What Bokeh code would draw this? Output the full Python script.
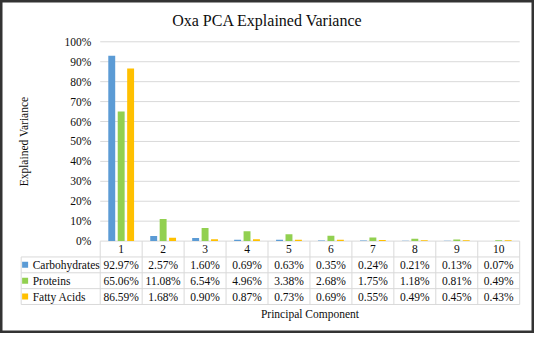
from bokeh.plotting import figure
from bokeh.models import Range1d, LinearAxis, FixedTicker, ColumnDataSource
from bokeh.transform import dodge
from bokeh.core.properties import value
from bokeh.embed import file_html
from bokeh.resources import INLINE

# ---------------- data ----------------
components = [1, 2, 3, 4, 5, 6, 7, 8, 9, 10]
series_names = ["Carbohydrates", "Proteins", "Fatty Acids"]
carbohydrates = [92.97, 2.57, 1.60, 0.69, 0.63, 0.35, 0.24, 0.21, 0.13, 0.07]
proteins = [65.06, 11.08, 6.54, 4.96, 3.38, 2.68, 1.75, 1.18, 0.81, 0.49]
fatty_acids = [86.59, 1.68, 0.90, 0.87, 0.73, 0.69, 0.55, 0.49, 0.45, 0.43]
y_ticks = [0, 10, 20, 30, 40, 50, 60, 70, 80, 90, 100]
y_tick_labels = ["0%", "10%", "20%", "30%", "40%", "50%", "60%", "70%", "80%", "90%", "100%"]
title_text = "Oxa PCA Explained Variance"
x_label = "Principal Component"
y_label = "Explained Variance"

# ---------------- style ----------------
colors = ["#5B9BD5", "#92D050", "#FFC000"]
FONT = "Liberation Serif"
TXT = "#0d0d0d"
LINE = "#d9d9d9"
FS = "11.5px"

X0, X1 = -1.877, 10.853
Y0, Y1 = -46.36, 120.72
row_h = 7.95
legend_left = -1.384
key_x = -1.29
label_x = -1.11
bar_w = 0.165
offs = [-0.225, 0.0, 0.225]

p = figure(width=534, height=333,
           x_range=Range1d(X0, X1), y_range=Range1d(Y0, Y1),
           output_backend="svg", toolbar_location=None,
           x_axis_location=None, y_axis_location=None,
           min_border=0, min_border_left=0, min_border_right=0,
           min_border_top=0, min_border_bottom=0,
           background_fill_color="white", border_fill_color="white",
           outline_line_color="#333333", outline_line_width=4)
for g in p.grid:
    g.visible = False

yax = LinearAxis(ticker=FixedTicker(ticks=y_ticks),
                 major_label_overrides={t: l for t, l in zip(y_ticks, y_tick_labels)},
                 fixed_location=components[0] - 0.5, bounds=(y_ticks[0], y_ticks[-1]),
                 axis_line_color=None, major_tick_line_color=None,
                 minor_tick_line_color=None, major_tick_in=0, major_tick_out=0,
                 minor_tick_in=0, minor_tick_out=0,
                 major_label_standoff=9,
                 major_label_text_font=FONT, major_label_text_font_size=FS,
                 major_label_text_color=TXT,
                 axis_label=y_label, axis_label_standoff=32,
                 axis_label_text_font=FONT, axis_label_text_font_size=FS,
                 axis_label_text_font_style="normal", axis_label_text_color=TXT)
p.add_layout(yax, "left")

xa = components[0] - 0.5
xb = components[-1] + 0.5

# gridlines
n = len(y_ticks)
p.segment(x0=[xa] * n, x1=[xb] * n, y0=y_ticks, y1=y_ticks,
          line_color=LINE, line_width=1)

# bars
src = ColumnDataSource(dict(x=components, s0=carbohydrates, s1=proteins, s2=fatty_acids))
for i, key in enumerate(["s0", "s1", "s2"]):
    p.vbar(x=dodge("x", offs[i], range=p.x_range), top=key, bottom=0,
           width=bar_w, fill_color=colors[i], line_color=None, source=src)

# table lines
nrows = len(series_names) + 1
hy = [-row_h * k for k in range(1, nrows + 1)]
p.segment(x0=[legend_left] * len(hy), x1=[xb] * len(hy), y0=hy, y1=hy,
          line_color=LINE, line_width=1)
vx = [c - 0.5 for c in components] + [xb]
p.segment(x0=vx, x1=vx, y0=[0] * len(vx), y1=[-row_h * nrows] * len(vx),
          line_color=LINE, line_width=1)
p.segment(x0=[legend_left], x1=[legend_left], y0=[-row_h], y1=[-row_h * nrows],
          line_color=LINE, line_width=1)

txt_kw = dict(text_font=value(FONT), text_font_size=value(FS), text_color=TXT,
              text_baseline="middle")

# header row
p.text(x=components, y=[-row_h / 2] * len(components),
       text=[str(c) for c in components], text_align="center", **txt_kw)

# data rows
for i, (name, vals) in enumerate(zip(series_names, [carbohydrates, proteins, fatty_acids])):
    yc = -row_h * (i + 1.5)
    p.text(x=components, y=[yc] * len(components),
           text=[f"{v:.2f}%" for v in vals], text_align="center", **txt_kw)
    p.scatter(x=[key_x], y=[yc], marker="square", size=6,
              fill_color=colors[i], line_color=None)
    p.text(x=[label_x], y=[yc], text=[name], text_align="left", **txt_kw)

# title and x label
p.text(x=[(X0 + X1) / 2], y=[110.9], text=[title_text], text_align="center",
       text_font=value(FONT), text_font_size=value("16px"), text_color=TXT,
       text_baseline="middle")
p.text(x=[(xa + xb) / 2], y=[-36.5], text=[x_label], text_align="center", **txt_kw)

open("out.html", "w").write(file_html(p, INLINE))
